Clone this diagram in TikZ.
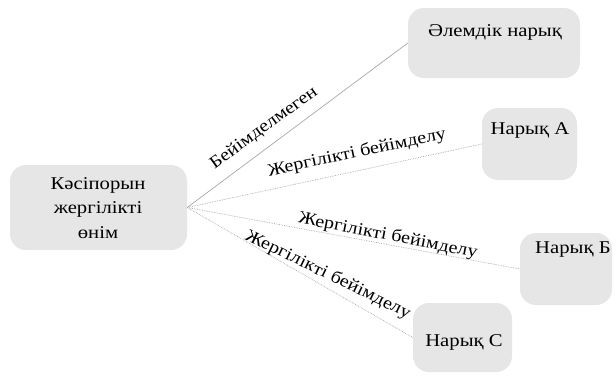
\documentclass[tikz,border=0pt]{standalone}
\usepackage{fontspec}
\setmainfont{Liberation Serif}[FakeStretch=1.15]
\begin{document}
\begin{tikzpicture}[x=1pt,y=-1pt,
  market/.style={fill=boxgray,rounded corners=16pt,inner sep=0pt,draw=none},
  caption/.style={inner sep=0pt,font=\fontsize{18}{24.5}\selectfont,text=black},
  link/.style={draw=linkgray,line width=0.7pt},
  linklabel/.style={inner sep=0pt,font=\fontsize{17.5}{20}\selectfont,text=black}]
\definecolor{boxgray}{HTML}{E6E6E6}
\definecolor{linkgray}{HTML}{A8A8A8}
\useasboundingbox (0,0) rectangle (616,375);

% boxes
\node[market,minimum width=177pt,minimum height=85pt] (src) at (98.5,207.5) {};
\node[market,minimum width=172pt,minimum height=70pt] (world) at (494,43) {};
\node[market,minimum width=95pt,minimum height=72pt] (ma) at (529.5,144) {};
\node[market,minimum width=92pt,minimum height=72pt] (mb) at (566,269) {};
\node[market,minimum width=99pt,minimum height=69pt] (mc) at (462.5,337.5) {};

% box captions
\node[caption,align=center] (srctext) at (98,208) {Кәсіпорын\\жергілікті\\өнім};
\node[caption] (worldtext) at (495,32) {Әлемдік нарық};
\node[caption] (matext) at (530,130) {Нарық А};
\node[caption] (mbtext) at (573,250) {Нарық Б};
\node[caption] (mctext) at (464,342) {Нарық С};

% connectors
\draw[link] (src.east) -- (world.west);
\draw[link,densely dotted] (src.east) -- (ma.west);
\draw[link,densely dotted] (src.east) -- (mb.west);
\draw[link,densely dotted] (src.east) -- (mc.west);

% connector labels
\node[linklabel,rotate=36] (l1) at (264,128) {Бейімделмеген};
\node[linklabel,rotate=12] (l2) at (357,153) {Жергілікті бейімделу};
\node[linklabel,rotate=-11] (l3) at (388,236) {Жергілікті бейімделу};
\node[linklabel,rotate=-26] (l4) at (328,275) {Жергілікті бейімделу};
\end{tikzpicture}
\end{document}
